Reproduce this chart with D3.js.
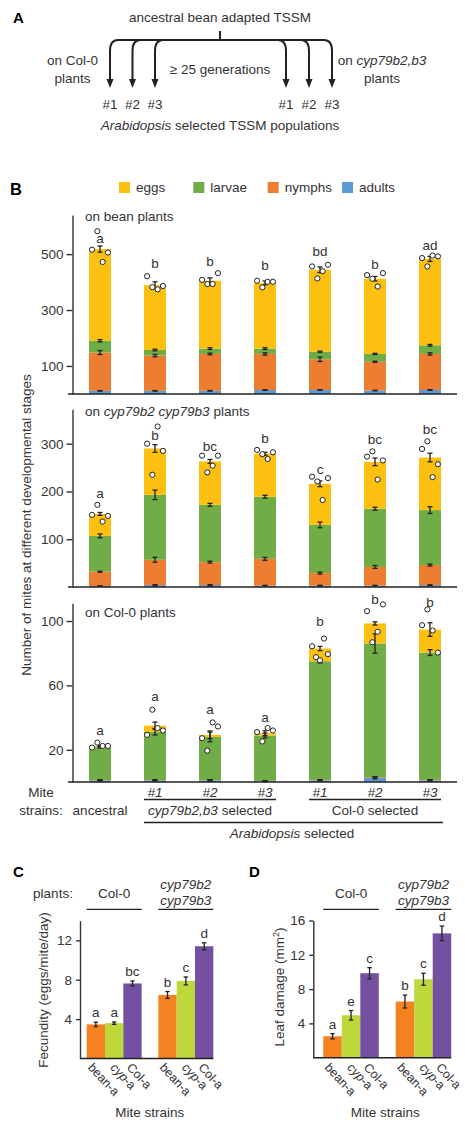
<!DOCTYPE html>
<html>
<head>
<meta charset="utf-8">
<script src="https://cdn.jsdelivr.net/npm/d3@7"></script>
<style>
  body { margin: 0; background: #fff; }
  svg { font-family: "Liberation Sans", Arial, sans-serif; }
  text { fill: #333; }
  .axis path, .axis line { stroke: #333; stroke-width: 1.4; }
  .axis text { font-size: 13.5px; fill: #333; font-family: "Liberation Sans", Arial, sans-serif; }
</style>
</head>
<body>
<div id="fig"></div>
<script>
// ---------- panel A ----------
var lineages = ["#1", "#2", "#3"];

// ---------- panel B data ----------
var strains = ["ancestral", "cyp #1", "cyp #2", "cyp #3", "Col #1", "Col #2", "Col #3"];
var stages = ["adults", "nymphs", "larvae", "eggs"];
var legendStages = ["eggs", "larvae", "nymphs", "adults"];

// on bean plants
var beanEggs = [328, 232, 243, 235, 293, 269, 309];
var beanLarvae = [42, 20, 19, 19, 27, 28, 31];
var beanNymphs = [137, 126, 132, 129, 110, 103, 129];
var beanAdults = [11, 11, 11, 14, 14, 12, 14];
var beanSeEggs = [11, 12, 10, 7, 10, 8, 9];
var beanSeLarvae = [4, 3, 3, 3, 2, 2, 3];
var beanSeNymphs = [7, 4, 3, 4, 8, 2, 4];
var beanSeAdults = [1, 1, 1, 1, 1, 1, 1];
var beanDots = [[516, 582, 472, 506], [421, 382, 374, 386], [408, 393, 393, 432], [405, 381, 401, 401],
                [456, 413, 439, 462], [425, 412, 384, 432], [486, 456, 495, 492]];
var beanLetters = ["a", "b", "b", "b", "bd", "b", "ad"];
var beanLetterAt = [541, 450, 456, 444, 494, 447, 516];

// on cyp79b2 cyp79b3 plants
var cypEggs = [46, 97, 91, 90, 86, 98, 110];
var cypLarvae = [75, 136, 120, 130, 101, 122, 115];
var cypNymphs = [30, 53, 48, 56, 26, 39, 42];
var cypAdults = [2, 4, 4, 3, 3, 3, 4];
var cypSeEggs = [3, 8, 4, 3, 6, 8, 9];
var cypSeLarvae = [4, 10, 3, 3, 6, 3, 7];
var cypSeNymphs = [1, 5, 2, 3, 2, 3, 2];
var cypSeAdults = [0.5, 1, 1, 0.5, 0.5, 0.5, 0.5];
var cypDots = [[151, 172, 137, 149], [300, 235, 336, 285], [275, 240, 254, 275], [287, 278, 268, 282],
               [231, 221, 182, 228], [273, 284, 225, 265], [289, 305, 230, 257]];
var cypLetters = ["a", "b", "bc", "b", "c", "bc", "bc"];
var cypLetterAt = [186, 308, 285, 301, 237, 300, 321];

// on Col-0 plants
var colEggs = [0.8, 3.8, 1.3, 1.4, 7.9, 12.5, 14.3];
var colLarvae = [20.4, 30, 26.8, 28.2, 73.7, 83, 79.1];
var colNymphs = [0.2, 0.2, 0.2, 0.2, 0.3, 0.5, 0.3];
var colAdults = [1, 1, 1, 0.5, 1, 2.5, 1];
var colSeEggs = [0.5, 2.2, 2.4, 1.5, 1.3, 1, 4.2];
var colSeLarvae = [0.5, 2, 3, 1.5, 1, 6, 1.8];
var colSeNymphs = [0, 0, 0, 0, 0, 0, 0];
var colSeAdults = [0.3, 0.3, 0.3, 0.3, 0.3, 0.6, 0.3];
var colDots = [[21.4, 24.5, 22.4, 22.4], [29.3, 44.9, 33.5, 32], [27.2, 19.5, 37, 34.5], [31, 25.2, 33.5, 32],
               [84.3, 77.5, 75.6, 89.1, 79.4], [106.1, 86.8, 93.3, 110.3], [97.4, 107.2, 94.1, 80.4]];
var colLetters = ["a", "a", "a", "a", "b", "b", "b"];
var colLetterAt = [29.3, 50.5, 42.2, 37.4, 96.8, 110.3, 108.8];

// ---------- panels C and D data ----------
var plantsCD = ["Col-0", "cyp79b2 cyp79b3"];
var miteStrainsCD = ["bean-a", "cyp-a", "Col-a"];
var fecCol = [3.46, 3.58, 7.62];
var fecCyp = [6.45, 7.88, 11.4];
var fecColSe = [0.22, 0.12, 0.25];
var fecCypSe = [0.35, 0.4, 0.35];
var fecColLetters = ["a", "a", "bc"];
var fecCypLetters = ["b", "c", "d"];
var dmgCol = [2.5, 4.95, 9.85];
var dmgCyp = [6.55, 9.15, 14.5];
var dmgColSe = [0.3, 0.55, 0.65];
var dmgCypSe = [0.75, 0.7, 0.85];
var dmgColLetters = ["a", "e", "c"];
var dmgCypLetters = ["b", "c", "d"];

var stageColors = { eggs: "#FDC010", larvae: "#70AD47", nymphs: "#ED7D31", adults: "#5B9BD5" };
var strainColors = { "bean-a": "#F58220", "cyp-a": "#BED73A", "Col-a": "#7451A0" };
var ink = "#222";
var fs = "13.5px";

var svg = d3.select("#fig").append("svg")
  .attr("width", 465)
  .attr("height", 1122);
svg.append("rect").attr("width", 465).attr("height", 1122).attr("fill", "#fff");

function label(x, y, txt, opts) {
  opts = opts || {};
  return svg.append("text")
    .attr("x", x).attr("y", y)
    .attr("text-anchor", opts.anchor || "middle")
    .style("font-size", opts.size || fs)
    .style("font-weight", opts.bold ? "bold" : null)
    .style("font-style", opts.italic ? "italic" : null)
    .style("fill", opts.bold ? "#000" : null)
    .text(txt);
}

// =========================== A ===========================
label(13, 23, "A", { anchor: "start", size: "15px", bold: true });
label(220, 21.5, "ancestral bean adapted TSSM");
label(220, 74, "\u2265 25 generations");
label(72.5, 65, "on Col-0");
label(72.5, 82.5, "plants");
var t = label(382, 65, "on ");
t.append("tspan").style("font-style", "italic").text("cyp79b2,b3");
label(382, 82.5, "plants");
t = label(220, 130, "");
t.append("tspan").style("font-style", "italic").text("Arabidopsis");
t.append("tspan").text(" selected TSSM populations");

var treeY = 40;
var leftX = d3.scalePoint().domain(lineages).range([110, 155]);
var rightX = d3.scalePoint().domain(lineages).range([286, 332]);
var tree = svg.append("g").attr("stroke", ink).attr("stroke-width", 2).attr("fill", "none");
tree.append("line").attr("x1", 220).attr("x2", 220).attr("y1", 31).attr("y2", treeY);
tree.append("line").attr("x1", leftX("#1") + 8).attr("x2", rightX("#3") - 8).attr("y1", treeY).attr("y2", treeY);

function branch(x, dir) {
  tree.append("path")
    .attr("d", "M" + (x + 8 * dir) + "," + treeY + " Q" + x + "," + treeY + " " + x + "," + (treeY + 11) + " L" + x + "," + 80);
  svg.append("path")
    .attr("d", "M" + (x - 3.5) + ",79 L" + (x + 3.5) + ",79 L" + x + ",88 Z")
    .attr("fill", ink);
}
lineages.forEach(function (l) {
  branch(leftX(l), 1);
  branch(rightX(l), -1);
  label(leftX(l), 108.5, l);
  label(rightX(l), 108.5, l);
});

// =========================== B ===========================
label(10, 195, "B", { anchor: "start", size: "16.5px", bold: true });

// legend
var legX = d3.scalePoint().domain(legendStages).range([119, 342]);
legendStages.forEach(function (s) {
  svg.append("rect").attr("x", legX(s)).attr("y", 182).attr("width", 11).attr("height", 11)
    .attr("fill", stageColors[s]);
  label(legX(s) + 17, 191.5, s, { anchor: "start" });
});

var bx = d3.scaleBand().domain(strains).range([72.5, 457.5]).paddingInner(0.6).paddingOuter(0.3);

var panelsB = [
  { eggs: beanEggs, larvae: beanLarvae, nymphs: beanNymphs, adults: beanAdults,
    se: { eggs: beanSeEggs, larvae: beanSeLarvae, nymphs: beanSeNymphs, adults: beanSeAdults },
    dots: beanDots, letters: beanLetters, letterAt: beanLetterAt,
    max: 640, top: 215, base: 393.9, ticks: [100, 300, 500], titleY: 220.7 },
  { eggs: cypEggs, larvae: cypLarvae, nymphs: cypNymphs, adults: cypAdults,
    se: { eggs: cypSeEggs, larvae: cypSeLarvae, nymphs: cypSeNymphs, adults: cypSeAdults },
    dots: cypDots, letters: cypLetters, letterAt: cypLetterAt,
    max: 372, top: 409.3, base: 587, ticks: [100, 200, 300], titleY: 415.7 },
  { eggs: colEggs, larvae: colLarvae, nymphs: colNymphs, adults: colAdults,
    se: { eggs: colSeEggs, larvae: colSeLarvae, nymphs: colSeNymphs, adults: colSeAdults },
    dots: colDots, letters: colLetters, letterAt: colLetterAt,
    max: 111, top: 603.3, base: 782, ticks: [20, 60, 100], titleY: 617 }
];

panelsB.forEach(function (p, pi) {
  var y = d3.scaleLinear().domain([0, p.max]).range([p.base, p.top]);
  var rows = strains.map(function (s, i) {
    return { strain: s, eggs: p.eggs[i], larvae: p.larvae[i], nymphs: p.nymphs[i], adults: p.adults[i] };
  });
  var series = d3.stack().keys(stages)(rows);
  var g = svg.append("g");

  g.selectAll("g.layer").data(series).enter().append("g")
    .attr("fill", function (d) { return stageColors[d.key]; })
    .selectAll("rect").data(function (d) { return d; }).enter().append("rect")
    .attr("x", function (d) { return bx(d.data.strain); })
    .attr("width", bx.bandwidth())
    .attr("y", function (d) { return y(d[1]); })
    .attr("height", function (d) { return y(d[0]) - y(d[1]); });

  // error bars at the top of every stage
  series.forEach(function (layer) {
    layer.forEach(function (d, i) {
      var cx = bx(d.data.strain) + bx.bandwidth() / 2;
      var se = p.se[layer.key][i];
      var y1 = y(d[1] + se), y2 = y(d[1] - se);
      var eb = g.append("g").attr("stroke", ink).attr("stroke-width", 1.3);
      eb.append("line").attr("x1", cx).attr("x2", cx).attr("y1", y1).attr("y2", y2);
      eb.append("line").attr("x1", cx - 2.5).attr("x2", cx + 2.5).attr("y1", y1).attr("y2", y1);
      eb.append("line").attr("x1", cx - 2.5).attr("x2", cx + 2.5).attr("y1", y2).attr("y2", y2);
    });
  });

  // replicate dots
  strains.forEach(function (s, i) {
    var vals = p.dots[i];
    var cx = bx(s) + bx.bandwidth() / 2;
    g.selectAll(null).data(vals).enter().append("circle")
      .attr("cx", function (v, j) { return cx + (j / (vals.length - 1) - 0.5) * bx.bandwidth() * 0.72; })
      .attr("cy", function (v) { return y(v); })
      .attr("r", 2.6)
      .attr("fill", "#fff")
      .attr("stroke", ink)
      .attr("stroke-width", 1);
    g.append("text")
      .attr("x", cx).attr("y", y(p.letterAt[i]))
      .attr("text-anchor", "middle")
      .style("font-size", fs)
      .text(p.letters[i]);
  });

  g.append("g").attr("class", "axis")
    .attr("transform", "translate(72.5,0)")
    .call(d3.axisLeft(y).tickValues(p.ticks).tickSize(6).tickSizeOuter(0).tickPadding(3));
  g.append("line").attr("x1", 68).attr("x2", 457).attr("y1", p.base).attr("y2", p.base)
    .attr("stroke", ink).attr("stroke-width", 1.5);

  var tt = g.append("text").attr("x", 85).attr("y", p.titleY).style("font-size", fs);
  if (pi === 0) tt.text("on bean plants");
  if (pi === 1) {
    tt.append("tspan").text("on ");
    tt.append("tspan").style("font-style", "italic").text("cyp79b2 cyp79b3");
    tt.append("tspan").text(" plants");
  }
  if (pi === 2) tt.text("on Col-0 plants");
});

svg.append("text")
  .attr("transform", "translate(31,525) rotate(-90)")
  .attr("text-anchor", "middle")
  .style("font-size", fs)
  .text("Number of mites at different developmental stages");

// strain labels under panel B
label(41, 797, "Mite");
label(41, 815, "strains:");
label(bx("ancestral") + bx.bandwidth() / 2, 815, "ancestral");
strains.slice(1).forEach(function (s) {
  label(bx(s) + bx.bandwidth() / 2, 797, s.split(" ")[1], { italic: true });
});
var under = svg.append("g").attr("stroke", ink).attr("stroke-width", 1.3);
under.append("line").attr("x1", 144).attr("x2", 276).attr("y1", 799.5).attr("y2", 799.5);
under.append("line").attr("x1", 309).attr("x2", 441).attr("y1", 799.5).attr("y2", 799.5);
under.append("line").attr("x1", 144).attr("x2", 443).attr("y1", 822.5).attr("y2", 822.5);
t = label(210, 815, "");
t.append("tspan").style("font-style", "italic").text("cyp79b2,b3");
t.append("tspan").text(" selected");
label(375, 815, "Col-0 selected");
t = label(292, 838, "");
t.append("tspan").style("font-style", "italic").text("Arabidopsis");
t.append("tspan").text(" selected");

// =========================== C and D ===========================
function drawCD(cfg) {
  var y = d3.scaleLinear().domain([0, cfg.max]).range([cfg.base, cfg.top]);
  var outer = d3.scaleBand().domain(plantsCD).range(cfg.xr).paddingInner(0.233).paddingOuter(cfg.po);
  var inner = d3.scaleBand().domain(miteStrainsCD).range([0, outer.bandwidth()]);
  var g = svg.append("g");

  plantsCD.forEach(function (pl, k) {
    var vals = cfg.values[k], ses = cfg.se[k], lets = cfg.letters[k];
    var gx = outer(pl);
    miteStrainsCD.forEach(function (m, i) {
      var x0 = gx + inner(m), cx = x0 + inner.bandwidth() / 2;
      g.append("rect").attr("x", x0).attr("width", inner.bandwidth())
        .attr("y", y(vals[i])).attr("height", y(0) - y(vals[i]))
        .attr("fill", strainColors[m]);
      var y1 = y(vals[i] + ses[i]), y2 = y(vals[i] - ses[i]);
      var eb = g.append("g").attr("stroke", ink).attr("stroke-width", 1.3);
      eb.append("line").attr("x1", cx).attr("x2", cx).attr("y1", y1).attr("y2", y2);
      eb.append("line").attr("x1", cx - 2.2).attr("x2", cx + 2.2).attr("y1", y1).attr("y2", y1);
      eb.append("line").attr("x1", cx - 2.2).attr("x2", cx + 2.2).attr("y1", y2).attr("y2", y2);
      g.append("text").attr("x", cx).attr("y", y1 - 5).attr("text-anchor", "middle")
        .style("font-size", fs).text(lets[i]);

      // rotated strain label
      var lx = cx - [8.5, 4.5, 6.5][i];
      var tl = g.append("text")
        .attr("transform", "translate(" + lx + ",1068) rotate(47)")
        .style("font-size", "12.5px");
      if (m === "cyp-a") {
        tl.append("tspan").style("font-style", "italic").text("cyp");
        tl.append("tspan").text("-a");
      } else {
        tl.text(m);
      }
    });

    // plant header
    var mid = gx + outer.bandwidth() / 2;
    g.append("line").attr("x1", gx).attr("x2", gx + outer.bandwidth())
      .attr("y1", 909.3).attr("y2", 909.3).attr("stroke", ink).attr("stroke-width", 1.3);
    if (k === 0) {
      label(mid, 898.3, pl);
    } else {
      label(mid, 889, "cyp79b2", { italic: true });
      label(mid, 905, "cyp79b3", { italic: true });
    }
  });

  g.append("g").attr("class", "axis")
    .attr("transform", "translate(" + cfg.xr[0] + ",0)")
    .call(d3.axisLeft(y).tickValues(cfg.ticks).tickSize(4).tickSizeOuter(0).tickPadding(4));
  var xEnd = outer(plantsCD[1]) + outer.bandwidth();
  g.append("line").attr("x1", cfg.xr[0]).attr("x2", xEnd).attr("y1", cfg.base).attr("y2", cfg.base)
    .attr("stroke", ink).attr("stroke-width", 1.5);

  var yl = g.append("text")
    .attr("transform", "translate(" + cfg.ylabX + "," + cfg.ylabY + ") rotate(-90)")
    .attr("text-anchor", "middle")
    .style("font-size", fs);
  if (cfg.sup) {
    yl.append("tspan").text("Leaf damage (mm");
    yl.append("tspan").attr("dy", -5).style("font-size", "9px").text("2");
    yl.append("tspan").attr("dy", 5).text(")");
  } else {
    yl.text(cfg.ylab);
  }
  label((cfg.xr[0] + xEnd) / 2 + 3, 1117, "Mite strains");
}

label(13, 877.3, "C", { anchor: "start", size: "15px", bold: true });
label(249, 877.3, "D", { anchor: "start", size: "15px", bold: true });
label(53, 898.3, "plants:");

drawCD({ max: 14, base: 1058.4, top: 920.7, xr: [80, 220], po: 0.093, ticks: [4, 8, 12],
  values: [fecCol, fecCyp], se: [fecColSe, fecCypSe], letters: [fecColLetters, fecCypLetters],
  ylab: "Fecundity (eggs/mite/day)", ylabX: 47.5, ylabY: 990 });
drawCD({ max: 16, base: 1057.7, top: 920.5, xr: [313.3, 461.2], po: 0.138, ticks: [4, 8, 12, 16],
  values: [dmgCol, dmgCyp], se: [dmgColSe, dmgCypSe], letters: [dmgColLetters, dmgCypLetters],
  sup: true, ylabX: 284, ylabY: 987 });
</script>
</body>
</html>
